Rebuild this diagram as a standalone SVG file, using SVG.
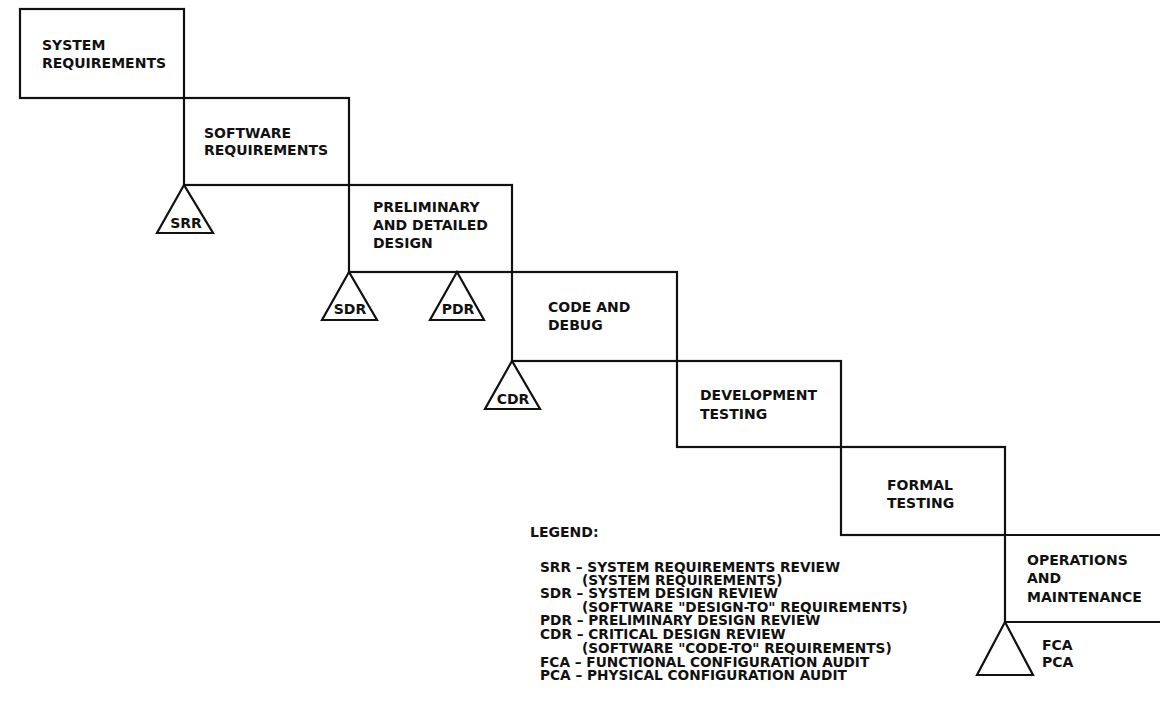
<svg xmlns="http://www.w3.org/2000/svg" width="1160" height="720" viewBox="0 0 1160 720">
<style>
.box{fill:none;stroke:#111;stroke-width:2.2;stroke-linejoin:miter}
.tri{fill:#fff;stroke:#111;stroke-width:2.2;stroke-linejoin:miter}
text{font-family:"DejaVu Sans","Liberation Sans",sans-serif;font-weight:bold;font-size:14px;fill:#111}
.c{text-anchor:middle}
.lg{font-size:13.7px}
</style>
<rect width="1160" height="720" fill="#fff"/>
<g id="system-requirements">
<rect class="box" x="20" y="9" width="164" height="89"/>
<text x="42" y="50">SYSTEM</text>
<text x="42" y="68">REQUIREMENTS</text>
</g>
<g id="software-requirements">
<rect class="box" x="184" y="98" width="165" height="87"/>
<text x="204" y="138">SOFTWARE</text>
<text x="204" y="155">REQUIREMENTS</text>
</g>
<g id="preliminary-design">
<rect class="box" x="349" y="185" width="163" height="87"/>
<text x="373" y="212">PRELIMINARY</text>
<text x="373" y="230">AND DETAILED</text>
<text x="373" y="248">DESIGN</text>
</g>
<g id="code-debug">
<rect class="box" x="512" y="272" width="165" height="89"/>
<text x="548" y="312">CODE AND</text>
<text x="548" y="330">DEBUG</text>
</g>
<g id="development-testing">
<rect class="box" x="677" y="361" width="164" height="86"/>
<text x="700" y="400">DEVELOPMENT</text>
<text x="700" y="419">TESTING</text>
</g>
<g id="formal-testing">
<rect class="box" x="841" y="447" width="164" height="88"/>
<text x="887" y="490">FORMAL</text>
<text x="887" y="508">TESTING</text>
</g>
<g id="operations-maintenance">
<path class="box" d="M1162,535 H1005 V622 H1162"/>
<text x="1027" y="565">OPERATIONS</text>
<text x="1027" y="583">AND</text>
<text x="1027" y="602">MAINTENANCE</text>
</g>
<g id="srr">
<polygon class="tri" points="184,185 157,233 213,233"/>
<text class="c" x="186" y="228">SRR</text>
</g>
<g id="sdr">
<polygon class="tri" points="349,272 322,320 377,320"/>
<text class="c" x="350" y="314">SDR</text>
</g>
<g id="pdr">
<polygon class="tri" points="457,272 430,320 484,320"/>
<text class="c" x="458" y="314">PDR</text>
</g>
<g id="cdr">
<polygon class="tri" points="512,361 485,409 540,409"/>
<text class="c" x="513" y="404">CDR</text>
</g>
<g id="fca-pca">
<polygon class="tri" points="1005,622 977,675 1033,675"/>
<text x="1042" y="650">FCA</text>
<text x="1042" y="667">PCA</text>
</g>
<g id="legend">
<text x="530" y="537">LEGEND:</text>
<text class="lg" x="540" y="572">SRR – SYSTEM REQUIREMENTS REVIEW</text>
<text class="lg" x="582" y="585">(SYSTEM REQUIREMENTS)</text>
<text class="lg" x="540" y="598">SDR – SYSTEM DESIGN REVIEW</text>
<text class="lg" x="582" y="612">(SOFTWARE "DESIGN-TO" REQUIREMENTS)</text>
<text class="lg" x="540" y="625">PDR – PRELIMINARY DESIGN REVIEW</text>
<text class="lg" x="540" y="639">CDR – CRITICAL DESIGN REVIEW</text>
<text class="lg" x="582" y="653">(SOFTWARE "CODE-TO" REQUIREMENTS)</text>
<text class="lg" x="540" y="667">FCA – FUNCTIONAL CONFIGURATION AUDIT</text>
<text class="lg" x="540" y="680">PCA – PHYSICAL CONFIGURATION AUDIT</text>
</g>
</svg>
